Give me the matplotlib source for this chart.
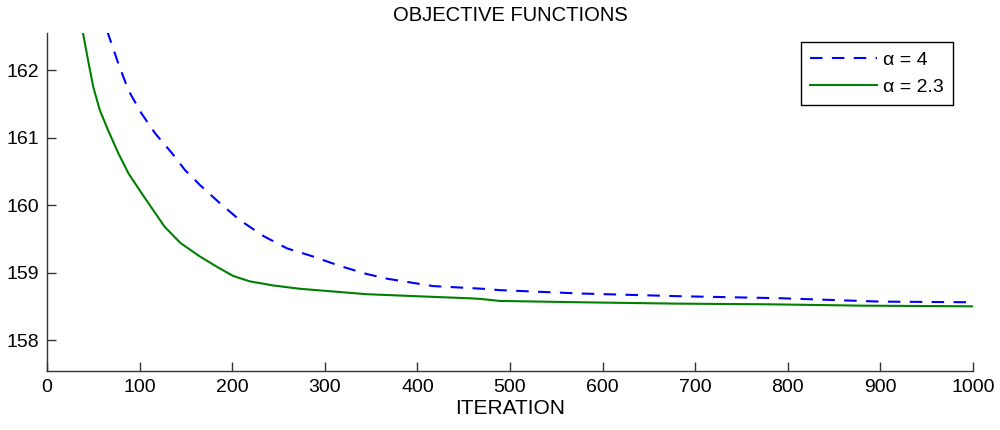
"""Objective function value against iteration for two alpha settings."""

import matplotlib
matplotlib.use("Agg")
import matplotlib.pyplot as plt

plt.rcParams['font.family'] = ['Liberation Sans', 'DejaVu Sans']

# values
iter_a4 = [60, 66, 77, 88, 102, 117, 135, 149, 160, 165, 185, 208, 234, 259, 287,
           316, 345, 367, 417, 471, 489, 576, 683, 792, 900, 1000]
obj_a4 = [162.9, 162.54, 162.1, 161.7, 161.36, 161.06, 160.77, 160.52, 160.37, 160.3,
          160.05, 159.78, 159.54, 159.36, 159.24, 159.1, 158.98, 158.91, 158.8, 158.76,
          158.74, 158.69, 158.65, 158.62, 158.57, 158.56]

iter_a23 = [35, 39, 45, 50, 57, 66, 77, 88, 102, 111, 117, 127, 144, 165, 183, 201,
            219, 244, 273, 345, 417, 455, 468, 489, 576, 680, 780, 880, 1000]
obj_a23 = [162.85, 162.54, 162.1, 161.75, 161.41, 161.11, 160.77, 160.47, 160.18, 160.0,
           159.88, 159.68, 159.44, 159.24, 159.09, 158.95, 158.87, 158.81, 158.76, 158.68,
           158.64, 158.62, 158.61, 158.58, 158.56, 158.54, 158.53, 158.51, 158.5]

labels = ["\u03b1 = 4", "\u03b1 = 2.3"]

fig = plt.figure(figsize=(10, 4.3), dpi=100)
ax = fig.add_axes([0.047, 0.137, 0.926, 0.786])

ax.plot(iter_a4, obj_a4, color='#0000ff', lw=1.5, dashes=(6, 4.5), label=labels[0])
ax.plot(iter_a23, obj_a23, color='#008000', lw=1.5, label=labels[1])

ax.set_xlim(0, 1000)
ax.set_ylim(157.54, 162.55)
ax.set_xticks(range(0, 1001, 100))
ax.set_yticks([158, 159, 160, 161, 162])

for side in ['top', 'right']:
    ax.spines[side].set_visible(False)
for side in ['left', 'bottom']:
    ax.spines[side].set_color('#333333')
    ax.spines[side].set_linewidth(1.0)
ax.tick_params(direction='in', length=6.5, width=1, colors='#333333',
               labelcolor='black', labelsize=14, pad=6)

ax.set_title("OBJECTIVE FUNCTIONS", fontsize=14.5, pad=9)
ax.set_xlabel("ITERATION", fontsize=15, labelpad=2)

leg = ax.legend(loc='upper right', fontsize=14, handlelength=3.45, handletextpad=0.3,
                borderpad=0.45, fancybox=False, framealpha=1, edgecolor='black',
                borderaxespad=0, bbox_to_anchor=(0.978, 0.973))
leg.get_frame().set_linewidth(1.0)

fig.savefig("out.png", dpi=100)
